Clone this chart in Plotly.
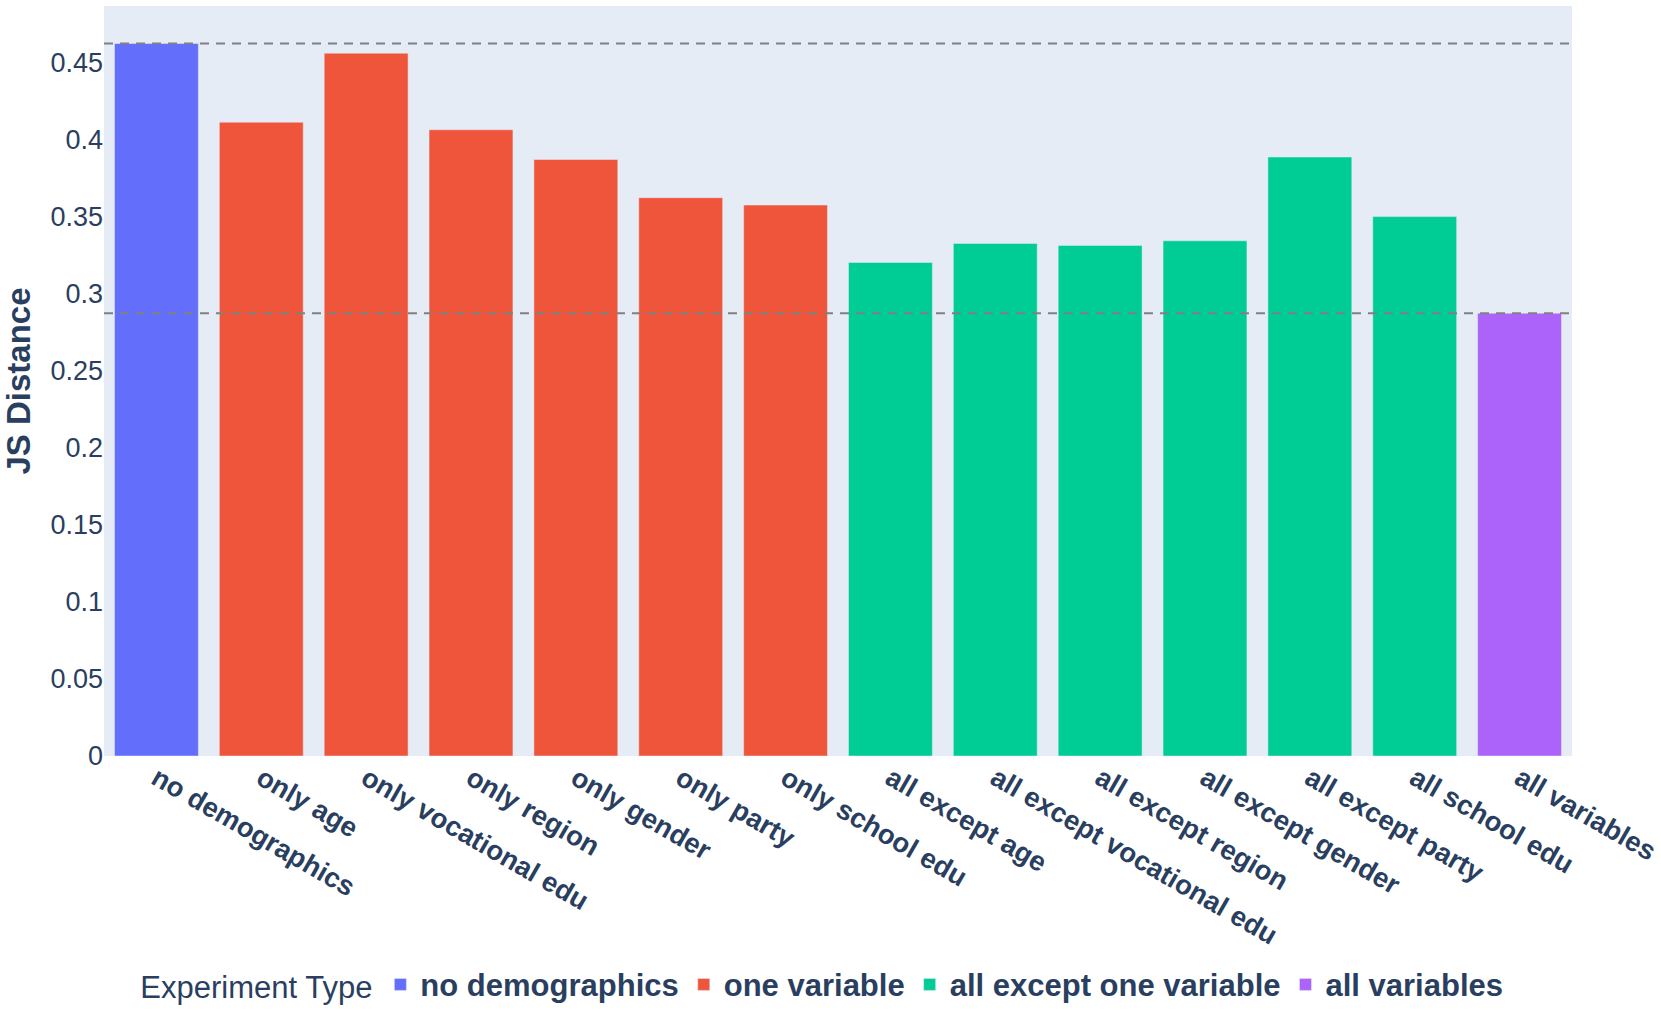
import plotly.graph_objects as go

categories = ["no demographics", "only age", "only vocational edu", "only region", "only gender",
              "only party", "only school edu", "all except age", "all except vocational edu",
              "all except region", "all except gender", "all except party", "all school edu",
              "all variables"]
values = [0.4626, 0.4115, 0.4563, 0.4066, 0.3873, 0.3625, 0.3577, 0.3204, 0.3328,
          0.3315, 0.3345, 0.3889, 0.3502, 0.2875]
groups = ["no demographics", "one variable", "one variable", "one variable", "one variable",
          "one variable", "one variable", "all except one variable", "all except one variable",
          "all except one variable", "all except one variable", "all except one variable",
          "all except one variable", "all variables"]
group_order = ["no demographics", "one variable", "all except one variable", "all variables"]
colors = ["#636efa", "#EF553B", "#00cc96", "#ab63fa"]

fig = go.Figure()
for g, c in zip(group_order, colors):
    xs = [cat for cat, gg in zip(categories, groups) if gg == g]
    ys = [v for v, gg in zip(values, groups) if gg == g]
    fig.add_trace(go.Bar(x=xs, y=ys, name="<b>" + g + "</b>", marker_color=c,
                         marker_line_color="#E5ECF6", marker_line_width=0.5))

fig.add_hline(y=values[0], line_dash="9px,7px", line_color="gray", line_width=2)
fig.add_hline(y=values[-1], line_dash="9px,7px", line_color="gray", line_width=2)

fig.update_layout(
    template="plotly",
    width=1661, height=1010,
    barmode="relative",
    font=dict(family="Arial, Liberation Sans, sans-serif", size=28, color="#2a3f5f"),
    margin=dict(l=104, r=89, t=6, b=254, autoexpand=False),
    plot_bgcolor="#E5ECF6",
    paper_bgcolor="white",
    legend=dict(orientation="h", x=0.49, xanchor="center", y=-0.305, yanchor="middle",
                title=dict(text="Experiment Type", font=dict(size=31)), font=dict(size=31)),
    xaxis=dict(categoryorder="array", categoryarray=categories, tickangle=30,
               tickfont=dict(size=27.5), showgrid=False, automargin=False),
    yaxis=dict(title=dict(text="<b>JS Distance</b>", font=dict(size=33), standoff=14),
               showgrid=False, zeroline=False, tickfont=dict(size=27), automargin=False,
               dtick=0.05),
)
fig.update_xaxes(tickprefix="<b>", ticksuffix="</b>")
fig.write_html("out.html", config={"displayModeBar": False},
               post_script="document.body.style.margin='0';document.body.style.overflow='hidden';")
